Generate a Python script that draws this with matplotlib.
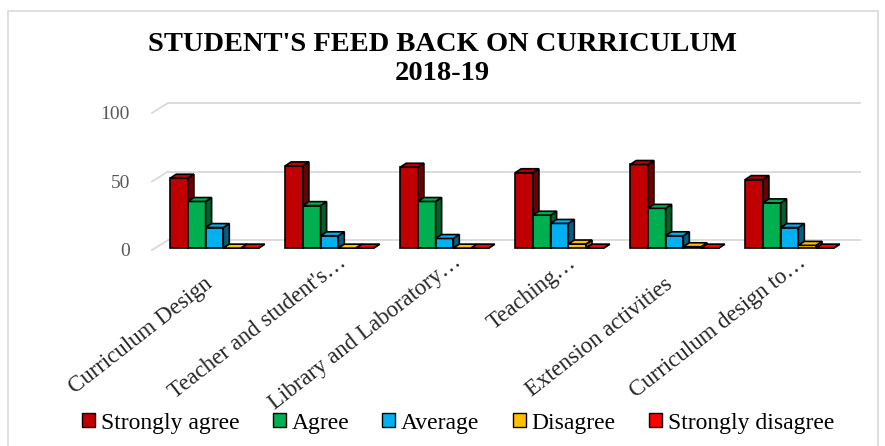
import matplotlib.pyplot as plt
import numpy as np
from matplotlib.patches import Polygon, Rectangle, Patch
from matplotlib.transforms import ScaledTranslation
import matplotlib.colors as mcolors

categories = ["Curriculum Design", "Teacher and student's\u2026", "Library and Laboratory\u2026",
              "Teaching\u2026", "Extension activities", "Curriculum design to\u2026"]
series = ["Strongly agree", "Agree", "Average", "Disagree", "Strongly disagree"]
strongly_agree = [51, 60, 59, 55, 61, 50]
agree = [34, 31, 34, 24, 29, 33]
average = [15, 9, 7, 18, 9, 15]
disagree = [0, 0, 0, 3, 1, 2]
strongly_disagree = [0, 0, 0, 0, 0, 0]
values = [strongly_agree, agree, average, disagree, strongly_disagree]
colors = ["#C00000", "#00B050", "#00B0F0", "#FFC000", "#FF0000"]
yticks = [0, 50, 100]

plt.rcParams['font.family'] = ['Liberation Serif', 'DejaVu Serif']

fig = plt.figure(figsize=(8.85, 4.46), dpi=100)
W, H = 885, 446
ax = fig.add_axes([152 / W, 196 / H, (844 - 152) / W, 139 / H])
x0, x1 = -0.543, 5.474
ax.set_xlim(x0, x1)
ax.set_ylim(0, 100)

bw = 17.7 / 115
dx = 6 / 115      # bar depth in x (data units)
dy = 4 / 1.39     # bar depth in y (data units)
wdx = 16 / 115    # wall depth
wdy = 10 / 1.39
front = -1.4      # front plane offset


def darker(c, f=0.55):
    r, g, b = mcolors.to_rgb(c)
    return (r * f, g * f, b * f)


# back gridlines with 3D wall stub at left
for v in yticks:
    ax.plot([x0 + wdx, x1 + wdx], [v + front + wdy, v + front + wdy], color="#D9D9D9", lw=1.3,
            zorder=0, clip_on=False)
    ax.plot([x0, x0 + wdx], [v + front, v + front + wdy], color="#D9D9D9", lw=1.3, zorder=0,
            clip_on=False)

xs = np.arange(len(categories))
for i, (vals, col) in enumerate(zip(values, colors)):
    left = xs - 2.5 * bw + i * bw
    for j, (l, h) in enumerate(zip(left, vals)):
        z = 2 + j * 10 + i
        ax.add_patch(Rectangle((l, 0), bw, h, facecolor=col, edgecolor="black", lw=1.2, zorder=z))
        side = [(l + bw, 0), (l + bw + dx, dy), (l + bw + dx, h + dy), (l + bw, h)]
        ax.add_patch(Polygon(side, closed=True, facecolor=darker(col), edgecolor="black", lw=1.2, zorder=z))
        top = [(l, h), (l + dx, h + dy), (l + bw + dx, h + dy), (l + bw, h)]
        ax.add_patch(Polygon(top, closed=True, facecolor=col, edgecolor="black", lw=1.2, zorder=z))

ax.set_yticks([v + front for v in yticks])
ax.set_yticklabels([str(v) for v in yticks], fontsize=14, color="#595959")
ax.set_xticks(xs)
ax.set_xticklabels(categories, rotation=38, ha="right", va="center", rotation_mode="anchor",
                   fontsize=16.5, color="#262626")
ax.tick_params(axis="both", length=0)
ax.tick_params(axis="y", pad=16)
ax.tick_params(axis="x", pad=0)
# truncated labels (ending in ellipsis) sit closer to the bars, as in the original
for lab, name in zip(ax.get_xticklabels(), categories):
    if name.endswith("\u2026"):
        ox, oy = 14, 10
    else:
        ox, oy = -4, 32
    lab.set_transform(lab.get_transform() + ScaledTranslation(ox / 100, -oy / 100, fig.dpi_scale_trans))
for s in ax.spines.values():
    s.set_visible(False)

fig.text(0.5, 0.868, "STUDENT'S FEED BACK ON CURRICULUM\n2018-19", ha="center", va="center",
         fontsize=20.5, fontweight="bold", linespacing=1.2, family=["Liberation Serif"])

handles = [Patch(facecolor=c, edgecolor="black", lw=1.0) for c in colors]
fig.legend(handles, series, loc="center", bbox_to_anchor=(458 / W, 1 - 423 / H), ncol=5,
           frameon=False, prop={"family": ["Liberation Serif"], "size": 17},
           handlelength=0.55, handleheight=0.55, handletextpad=0.25, columnspacing=1.4)

fig.patches.append(Rectangle((8 / W, -5 / H), 870 / W, (446 - 11 + 5) / H, transform=fig.transFigure,
                             fill=False, edgecolor="#D9D9D9", lw=1.2))

fig.savefig("out.png", dpi=100)
